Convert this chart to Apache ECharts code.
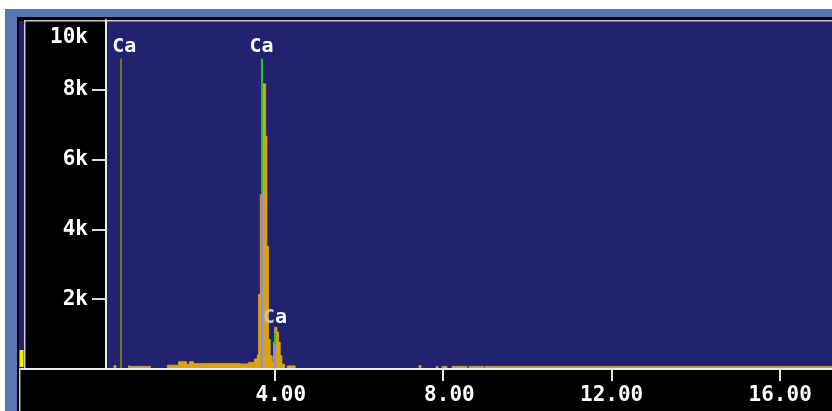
<!DOCTYPE html>
<html>
<head>
<meta charset="utf-8">
<script src="https://cdn.jsdelivr.net/npm/echarts@6/dist/echarts.min.js"></script>
<style>
html,body{margin:0;padding:0;background:#fff;}
#chart{width:832px;height:411px;}
</style>
</head>
<body>
<div id="chart"></div>
<script>
// Spectrum histogram: energy (keV) where each level starts, and its counts
const energyKeV = [0.000, 0.190, 0.237, 0.533, 0.560, 1.055, 1.457, 1.718, 1.908, 1.979, 2.073, 3.187, 3.377, 3.519, 3.590, 3.621, 3.661, 3.701, 3.720, 3.791, 3.820, 3.858, 3.898, 3.945, 3.976, 4.000, 4.057, 4.095, 4.135, 4.175, 4.237, 4.301, 4.491, 7.429, 7.476, 7.832, 7.879, 7.974, 8.092, 8.211, 8.566, 8.614, 8.969, 8.993, 17.23];
const counts    = [0,     100,   0,     90,    75,    0,     110,   210,   140,   210,   160,   145,   190,   285,   400,   2140,  5000,  7700,  8170,  6670,  3520,  850,   380,   200,   770,   1190,  1060,  770,   380,   140,   0,     90,    0,     100,   0,     75,    0,     75,    0,     75,    0,     75,    0,     75,    75];

// Element marker lines (Ca L, Ca Ka, Ca Kb)
const markerNames  = ['Ca', 'Ca', 'Ca'];
const markerKeV    = [0.341, 3.691, 4.013];
const markerHeight = [8900, 8900, 1100];
const kaGreenFrom  = 5030;   // Ka line: lavender below, green above
const kbGreenRange = [690, 1030];

// Axis ticks
const xTickValues = [4, 8, 12, 16];
const xTickLabels = [' 4.00', ' 8.00', '12.00', '16.00'];
const yTickValues = [2000, 4000, 6000, 8000];
const yLabelValues = [2000, 4000, 6000, 8000, 10000];
const yTickLabels = ['2k', '4k', '6k', '8k', '10k'];

const FONT = 'DejaVu Sans Mono';
const NAVY = '#222270';
const ORANGE = '#d9a514';
const OLIVE = '#6b7b1c';
const GREEN = '#1ec81e';
const LAV = '#8a8af0';

// bins: [start, end, count]
const bins = [];
for (let i = 0; i < energyKeV.length - 1; i++) {
  bins.push([energyKeV[i], energyKeV[i + 1], counts[i]]);
}

function seg(x, y0, y1, color, label) {
  const a = {coord: [x, y0], lineStyle: {color: color, width: 2, type: 'solid'}, label: {show: false}};
  const b = {coord: [x, y1]};
  if (label) { a.label = label; }
  return [a, b];
}
const richW = {color: '#ffffff', fontFamily: FONT, fontWeight: 'bold', fontSize: 20};
const richG = {color: '#c4c4c4', fontFamily: FONT, fontWeight: 'bold', fontSize: 20};

const markData = [
  seg(markerKeV[0], 0, markerHeight[0], OLIVE, {show: true, position: 'end', distance: 2,
      formatter: '{p|' + markerNames[0] + '}', rich: {p: Object.assign({padding: [0, 0, 0, 8]}, richW)}}),
  seg(markerKeV[1], 0, kaGreenFrom, LAV, null),
  seg(markerKeV[1], kaGreenFrom, markerHeight[1], GREEN, {show: true, position: 'end', distance: 2,
      formatter: '{w|' + markerNames[1] + '}', rich: {w: richW}}),
  seg(markerKeV[2], 0, markerHeight[2], LAV, {show: true, position: 'end', distance: 3,
      formatter: '{g|' + markerNames[2].charAt(0) + '}{w|' + markerNames[2].slice(1) + '}', rich: {g: richG, w: richW}}),
  seg(markerKeV[2] - 0.005, kbGreenRange[0], kbGreenRange[1], GREEN, null)
];

const chart = echarts.init(document.getElementById('chart'), null, {renderer: 'canvas'});
chart.setOption({
  animation: false,
  backgroundColor: '#ffffff',
  graphic: [
    {type: 'rect', z: -10, shape: {x: 5, y: 9, width: 827, height: 402}, style: {fill: '#5876b2'}},
    {type: 'rect', z: -10, shape: {x: 17, y: 17, width: 815, height: 394}, style: {fill: '#000000'}},
    {type: 'rect', z: -10, shape: {x: 106, y: 21, width: 726, height: 348}, style: {fill: NAVY}},
    {type: 'rect', z: -10, shape: {x: 19, y: 21, width: 5, height: 348}, style: {fill: NAVY}},
    {type: 'rect', z: -10, shape: {x: 24, y: 20, width: 1.5, height: 349}, style: {fill: '#c8c8c8'}},
    {type: 'rect', z: -10, shape: {x: 24, y: 20, width: 808, height: 1.5}, style: {fill: '#c8c8c8'}},
    {type: 'rect', z: -10, shape: {x: 19.5, y: 350, width: 4, height: 17}, style: {fill: '#f0f000'}},
    {type: 'rect', z: -10, shape: {x: 19, y: 368, width: 90, height: 2}, style: {fill: '#e8e8e8'}},
    {type: 'rect', z: -10, shape: {x: 19, y: 368, width: 1.5, height: 43}, style: {fill: '#c8c8c8'}}
  ],
  grid: {left: 106, right: 0, top: 20, bottom: 42, show: false, containLabel: false},
  xAxis: {
    type: 'value', min: 0, max: 17.23, interval: 4, z: 5,
    axisLine: {show: true, onZero: false, lineStyle: {color: '#e8e8e8', width: 2}},
    axisTick: {show: true, length: 12, customValues: xTickValues, lineStyle: {color: '#e8e8e8', width: 2}},
    axisLabel: {
      show: true, customValues: xTickValues, margin: 16,
      color: '#ffffff', fontFamily: FONT, fontWeight: 'bold', fontSize: 21,
      formatter: function (v) { const i = xTickValues.indexOf(v); return i >= 0 ? xTickLabels[i] : ''; }
    },
    splitLine: {show: false}
  },
  yAxis: {
    type: 'value', min: 0, max: 10000, interval: 2000, z: 5,
    axisLine: {show: true, lineStyle: {color: '#e8e8e8', width: 2}},
    axisTick: {show: true, length: 14, customValues: yTickValues, lineStyle: {color: '#d8d8d8', width: 2}},
    axisLabel: {
      show: true, customValues: yLabelValues, margin: 18,
      color: '#ffffff', fontFamily: FONT, fontWeight: 'bold', fontSize: 21,
      formatter: function (v) {
        const i = yLabelValues.indexOf(v);
        if (i < 0) return '';
        return v === 10000 ? '{t|' + yTickLabels[i] + '}' : yTickLabels[i];
      },
      rich: {t: {color: '#ffffff', fontFamily: FONT, fontWeight: 'bold', fontSize: 21, padding: [36, 0, 0, 0]}}
    },
    splitLine: {show: false}
  },
  series: [{
    type: 'custom',
    data: bins,
    encode: {x: [0, 1], y: 2},
    clip: true,
    z: 2,
    renderItem: function (params, api) {
      const c = api.value(2);
      if (c <= 0) return null;
      const pTop = api.coord([api.value(0), c]);
      const pBot = api.coord([api.value(1), 0]);
      return {
        type: 'rect',
        shape: {x: pTop[0], y: pTop[1], width: pBot[0] - pTop[0], height: pBot[1] - pTop[1]},
        style: {fill: ORANGE, stroke: ORANGE, lineWidth: 0.8}
      };
    }
  }, {
    type: 'line',
    data: [[0, 0]],
    symbol: 'none',
    lineStyle: {opacity: 0},
    z: 3,
    markLine: {
      silent: true,
      symbol: ['none', 'none'],
      animation: false,
      data: markData
    }
  }]
});
</script>
</body>
</html>
